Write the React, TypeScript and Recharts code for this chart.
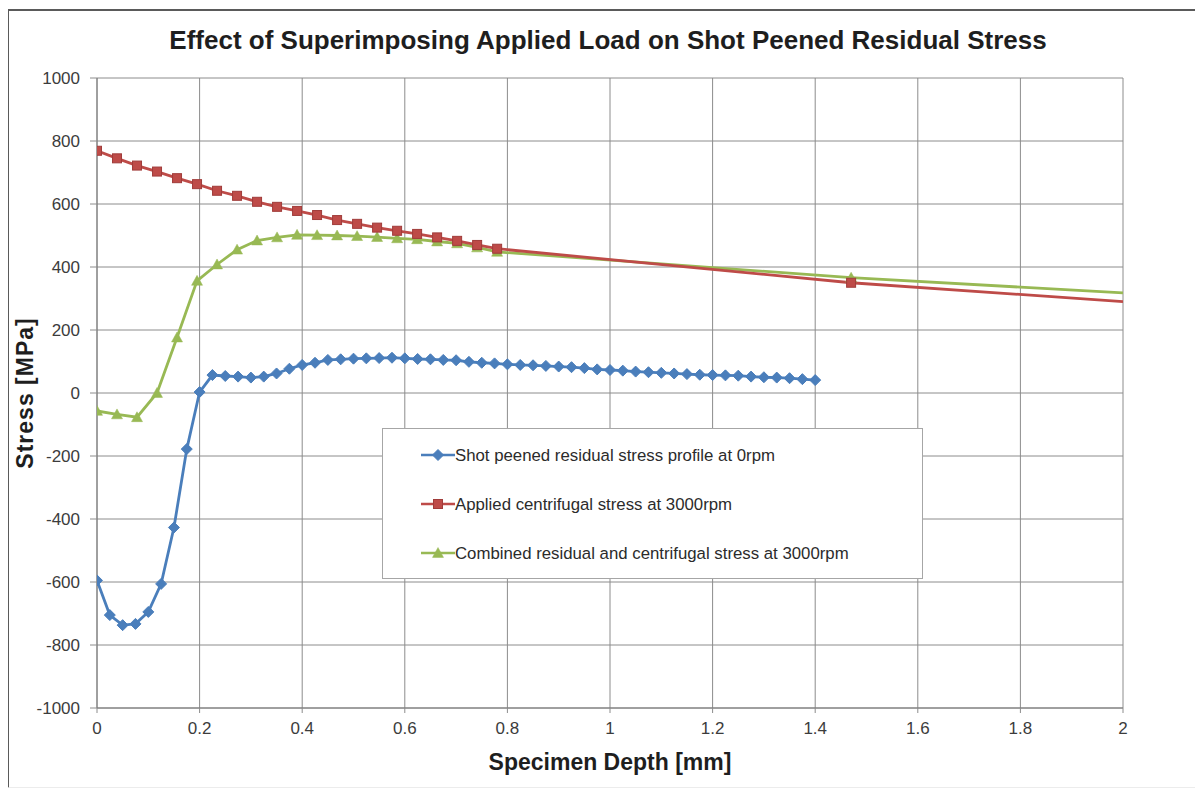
import React from 'react';
import { LineChart, Line, XAxis, YAxis, CartesianGrid, Legend, Label } from 'recharts';

// Shot peened residual stress profile at 0 rpm (depth mm, stress MPa)
const residualDepth = [
  0, 0.025, 0.05, 0.075, 0.1, 0.125, 0.15, 0.175, 0.2, 0.225,
  0.25, 0.275, 0.3, 0.325, 0.35, 0.375, 0.4, 0.425, 0.45, 0.475,
  0.5, 0.525, 0.55, 0.575, 0.6, 0.625, 0.65, 0.675, 0.7, 0.725,
  0.75, 0.775, 0.8, 0.825, 0.85, 0.875, 0.9, 0.925, 0.95, 0.975,
  1.0, 1.025, 1.05, 1.075, 1.1, 1.125, 1.15, 1.175, 1.2, 1.225,
  1.25, 1.275, 1.3, 1.325, 1.35, 1.375, 1.4,
];
const residualStress = [
  -595, -705, -737, -733, -695, -606, -427, -178, 3, 57,
  54, 52, 49, 52, 62, 77, 89, 96, 105, 107,
  109, 110, 111, 112, 110, 108, 107, 105, 104, 99,
  96, 94, 91, 89, 88, 86, 84, 82, 79, 75,
  73, 71, 68, 66, 64, 62, 60, 58, 57, 56,
  55, 52, 50, 49, 47, 44, 41,
];

// Applied centrifugal stress and combined stress at 3000 rpm share the same depths
const loadDepth = [
  0, 0.039, 0.078, 0.117, 0.156, 0.195, 0.234, 0.273, 0.312, 0.351,
  0.39, 0.429, 0.468, 0.507, 0.546, 0.585, 0.624, 0.663, 0.702, 0.741,
  0.78, 1.47, 2.0,
];
const centrifugalStress = [
  769, 745, 722, 703, 682, 663, 642, 626, 607, 591,
  578, 565, 549, 537, 525, 515, 505, 494, 483, 470,
  458, 350, 290,
];
const combinedStress = [
  -57, -68, -77, 0, 176, 356, 408, 455, 484, 494,
  502, 501, 500, 498, 495, 491, 488, 481, 475, 462,
  448, 366, 318,
];

const xTicks = [0, 0.2, 0.4, 0.6, 0.8, 1, 1.2, 1.4, 1.6, 1.8, 2];
const yTicks = [-1000, -800, -600, -400, -200, 0, 200, 400, 600, 800, 1000];

const seriesNames = [
  'Shot peened residual stress profile at 0rpm',
  'Applied centrifugal stress at 3000rpm',
  'Combined residual and centrifugal stress at 3000rpm',
];

const BLUE = '#4A7EBB';
const RED = '#BE4B48';
const GREEN = '#98B954';
const FONT = '"Liberation Sans", Arial, sans-serif';

const residualData = residualDepth.map((d, i) => ({ depth: d, stress: residualStress[i] }));
const centrifugalData = loadDepth.map((d, i) => ({ depth: d, stress: centrifugalStress[i] }));
const combinedData = loadDepth.map((d, i) => ({ depth: d, stress: combinedStress[i] }));

type DotProps = { cx?: number; cy?: number; payload?: { depth: number }; index?: number };

const Diamond = (color: string) => (p: DotProps) => {
  const { cx = 0, cy = 0, index } = p;
  const r = 5.5;
  return (
    <polygon
      key={`d-${index}`}
      points={`${cx},${cy - r} ${cx + r},${cy} ${cx},${cy + r} ${cx - r},${cy}`}
      fill={color}
      stroke={color}
      strokeWidth={1}
    />
  );
};

const Square = (color: string, edge: string) => (p: DotProps) => {
  const { cx = 0, cy = 0, payload, index } = p;
  if (payload && payload.depth >= 2) return <g key={`s-${index}`} />;
  const s = 4.5;
  return (
    <rect key={`s-${index}`} x={cx - s} y={cy - s} width={2 * s} height={2 * s} fill={color} stroke={edge} strokeWidth={1} />
  );
};

const Triangle = (color: string) => (p: DotProps) => {
  const { cx = 0, cy = 0, payload, index } = p;
  if (payload && payload.depth >= 2) return <g key={`t-${index}`} />;
  const r = 5.5;
  return (
    <polygon
      key={`t-${index}`}
      points={`${cx},${cy - r} ${cx + r},${cy + r * 0.8} ${cx - r},${cy + r * 0.8}`}
      fill={color}
      stroke={color}
      strokeWidth={0.5}
    />
  );
};

const legendMarkers = [
  (x: number, y: number) => Diamond(BLUE)({ cx: x, cy: y, index: 0 }),
  (x: number, y: number) => Square(RED, '#A03C3A')({ cx: x, cy: y, index: 1, payload: { depth: 0 } }),
  (x: number, y: number) => Triangle(GREEN)({ cx: x, cy: y, index: 2, payload: { depth: 0 } }),
];
const legendColors = [BLUE, RED, GREEN];

const LegendBox = () => (
  <svg width={541} height={151} style={{ display: 'block' }}>
    <rect x={0.5} y={0.5} width={540} height={150} fill="#ffffff" stroke="#a6a6a6" strokeWidth={1} />
    {seriesNames.map((name, i) => {
      const y = 27 + i * 49;
      return (
        <g key={name}>
          <line x1={39} x2={73} y1={y} y2={y} stroke={legendColors[i]} strokeWidth={2.5} />
          {legendMarkers[i](56, y)}
          <text x={73} y={y} dy="0.35em" fontFamily={FONT} fontSize={16.8} fill="#2b2b2b">
            {name}
          </text>
        </g>
      );
    })}
  </svg>
);

const tickStyle = { fontFamily: FONT, fontSize: 17, fill: '#3c3c3c' };

export default function App() {
  return (
    <div style={{ position: 'relative', width: 1195, height: 781, overflow: 'hidden', background: '#ffffff' }}>
      <div
        style={{
          position: 'absolute',
          left: -1,
          top: 1,
          width: 1189,
          height: 776,
          borderLeft: '2px solid #5a5a5a',
          borderTop: '2px solid #5a5a5a',
          borderRight: '1px solid #ececec',
          borderBottom: '1px solid #ececec',
        }}
      />
      <div
        style={{
          position: 'absolute',
          left: 0,
          top: 17,
          width: 1200,
          textAlign: 'center',
          fontFamily: FONT,
          fontWeight: 'bold',
          fontSize: 26,
          color: '#1e1e1e',
          lineHeight: '30px',
        }}
      >
        Effect of Superimposing Applied Load on Shot Peened Residual Stress
      </div>
      <LineChart
        width={1195}
        height={781}
        margin={{ top: 70, right: 80, bottom: 0, left: 0 }}
        style={{ position: 'absolute', left: 0, top: 0 }}
      >
        <CartesianGrid stroke="#8c8c8c" strokeWidth={1} />
        <XAxis
          dataKey="depth"
          type="number"
          domain={[0, 2]}
          ticks={xTicks}
          allowDataOverflow
          height={81}
          tick={tickStyle}
          tickSize={5}
          tickMargin={9}
          stroke="#7a7a7a"
          tickLine={{ stroke: '#8c8c8c' }}
        >
          <Label
            content={(props: any) => {
              const vb = props.viewBox || { x: 89, y: 700, width: 1026 };
              return (
                <text
                  x={vb.x + vb.width / 2}
                  y={754}
                  dy="0.35em"
                  textAnchor="middle"
                  fontFamily={FONT}
                  fontWeight="bold"
                  fontSize={23}
                  fill="#1e1e1e"
                >
                  Specimen Depth [mm]
                </text>
              );
            }}
          />
        </XAxis>
        <YAxis
          type="number"
          domain={[-1000, 1000]}
          ticks={yTicks}
          width={89}
          tick={tickStyle}
          tickSize={7}
          tickMargin={10}
          stroke="#7a7a7a"
          tickLine={{ stroke: '#8c8c8c' }}
        >
          <Label
            content={() => (
              <text
                x={17}
                y={385}
                dy="0.35em"
                textAnchor="middle"
                transform="rotate(-90 17 385)"
                fontFamily={FONT}
                fontWeight="bold"
                fontSize={23}
                letterSpacing={1}
                fill="#1e1e1e"
              >
                Stress [MPa]
              </text>
            )}
          />
        </YAxis>
        <Legend
          layout="horizontal"
          verticalAlign="middle"
          align="center"
          content={() => <LegendBox />}
          wrapperStyle={{ left: 374, top: 420, width: 541, height: 151 }}
        />
        <Line
          data={combinedData}
          dataKey="stress"
          name={seriesNames[2]}
          stroke={GREEN}
          strokeWidth={2.8}
          dot={Triangle(GREEN)}
          isAnimationActive={false}
        />
        <Line
          data={centrifugalData}
          dataKey="stress"
          name={seriesNames[1]}
          stroke={RED}
          strokeWidth={2.8}
          dot={Square(RED, '#A03C3A')}
          isAnimationActive={false}
        />
        <Line
          data={residualData}
          dataKey="stress"
          name={seriesNames[0]}
          stroke={BLUE}
          strokeWidth={2.8}
          dot={Diamond(BLUE)}
          isAnimationActive={false}
        />
      </LineChart>
    </div>
  );
}
